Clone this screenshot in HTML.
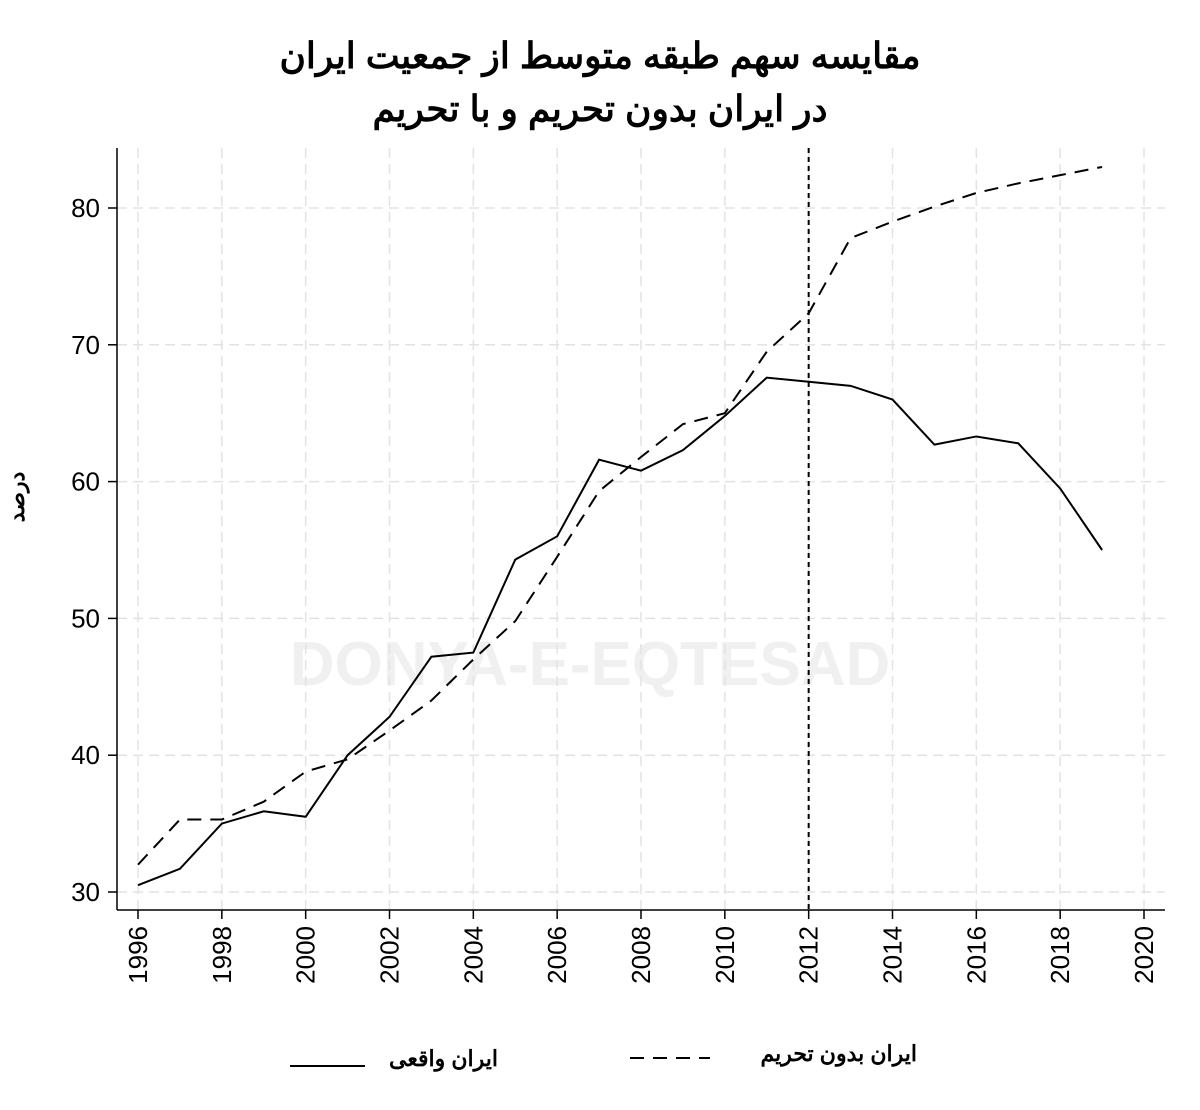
<!DOCTYPE html>
<html><head><meta charset="utf-8">
<style>
body{margin:0;background:#fff;width:1200px;height:1110px;overflow:hidden}
svg{display:block}
text{font-family:"Liberation Sans","Noto Sans CJK SC",sans-serif}
</style></head><body>
<svg id="chart" width="1200" height="1110">
<text x="600" y="68" text-anchor="middle" font-size="36" font-weight="bold">مقایسه سهم طبقه متوسط از جمعیت ایران</text>
<text x="600" y="121" text-anchor="middle" font-size="36" font-weight="bold">در ایران بدون تحریم و با تحریم</text>
<text x="590" y="685" text-anchor="middle" font-size="62" font-weight="bold" fill="#f0f0f0">DONYA-E-EQTESAD</text>
<text transform="translate(24,497) rotate(-90)" text-anchor="middle" font-size="22" font-weight="bold">درصد</text>
<g id="grid"></g><g id="axes"></g><g id="series"></g>
<g>
<line x1="290" y1="1066" x2="365" y2="1066" stroke="#000" stroke-width="2"/>
<text x="498" y="1066" text-anchor="end" font-size="22" font-weight="bold">ایران واقعی</text>
<line x1="630" y1="1058" x2="710" y2="1058" stroke="#000" stroke-width="2" stroke-dasharray="14,9"/>
<text x="917" y="1061" text-anchor="end" font-size="22" font-weight="bold">ایران بدون تحریم</text>
</g>
</svg>
<script>
const years=[1996,1997,1998,1999,2000,2001,2002,2003,2004,2005,2006,2007,2008,2009,2010,2011,2012,2013,2014,2015,2016,2017,2018,2019];
const actual=[30.5,31.7,35,35.9,35.5,40,42.8,47.2,47.5,54.3,56,61.6,60.8,62.3,64.8,67.6,67.3,67,66,62.7,63.3,62.8,59.5,55];
const noSanction=[32,35.3,35.3,36.6,38.8,39.7,41.8,44,47,49.8,54.5,59.3,61.8,64.2,65,69.5,72.3,77.8,79,80.1,81.1,81.8,82.4,83];
const xTicks=[1996,1998,2000,2002,2004,2006,2008,2010,2012,2014,2016,2018,2020];
const yTicks=[30,40,50,60,70,80];
const sx=y=>138+(y-1996)*(1144-138)/24;
const sy=v=>892-(v-30)*(892-208)/50;
const NS='http://www.w3.org/2000/svg';
function mk(tag,attrs,parent){const e=document.createElementNS(NS,tag);for(const k in attrs)e.setAttribute(k,attrs[k]);parent.appendChild(e);return e;}
const grid=document.getElementById('grid'),axes=document.getElementById('axes'),ser=document.getElementById('series');
yTicks.forEach(t=>{
 const g=mk('line',{x1:117,x2:1165,y1:sy(t),y2:sy(t),stroke:'#e3e3e3','stroke-width':1.5,'stroke-dasharray':'10,6'},grid);
 
 
 const tk=mk('line',{x1:108,x2:117,y1:sy(t),y2:sy(t),stroke:'#000','stroke-width':1.5},axes);
 
 
 const tx=mk('text',{x:100,y:sy(t)+9,'text-anchor':'end','font-size':26},axes);
 tx.textContent=t;
 
 
});
xTicks.forEach(t=>{
 const g=mk('line',{x1:sx(t),x2:sx(t),y1:148,y2:910,stroke:'#e3e3e3','stroke-width':1.5,'stroke-dasharray':'10,6'},grid);
 
 
 const tk=mk('line',{x1:sx(t),x2:sx(t),y1:910,y2:919,stroke:'#000','stroke-width':1.5},axes);
 
 
 const tx=mk('text',{transform:`translate(${sx(t)+9},926) rotate(-90)`,'text-anchor':'end','font-size':26},axes);
 tx.textContent=t;
 
 
});
const ya=mk('line',{x1:117,x2:117,y1:148,y2:910,stroke:'#000','stroke-width':1.5},axes);


const xa=mk('line',{x1:117,x2:1165,y1:910,y2:910,stroke:'#000','stroke-width':1.5},axes);


const vl=mk('line',{x1:sx(2012),x2:sx(2012),y1:148,y2:910,stroke:'#000','stroke-width':2,'stroke-dasharray':'5,4'},ser);


const pts=a=>a.map((v,i)=>sx(years[i])+','+sy(v)).join(' ');
const l1=mk('polyline',{points:pts(noSanction),fill:'none',stroke:'#000','stroke-width':2,'stroke-dasharray':'14,9'},ser);


const l2=mk('polyline',{points:pts(actual),fill:'none',stroke:'#000','stroke-width':2},ser);


</script>
</body></html>
